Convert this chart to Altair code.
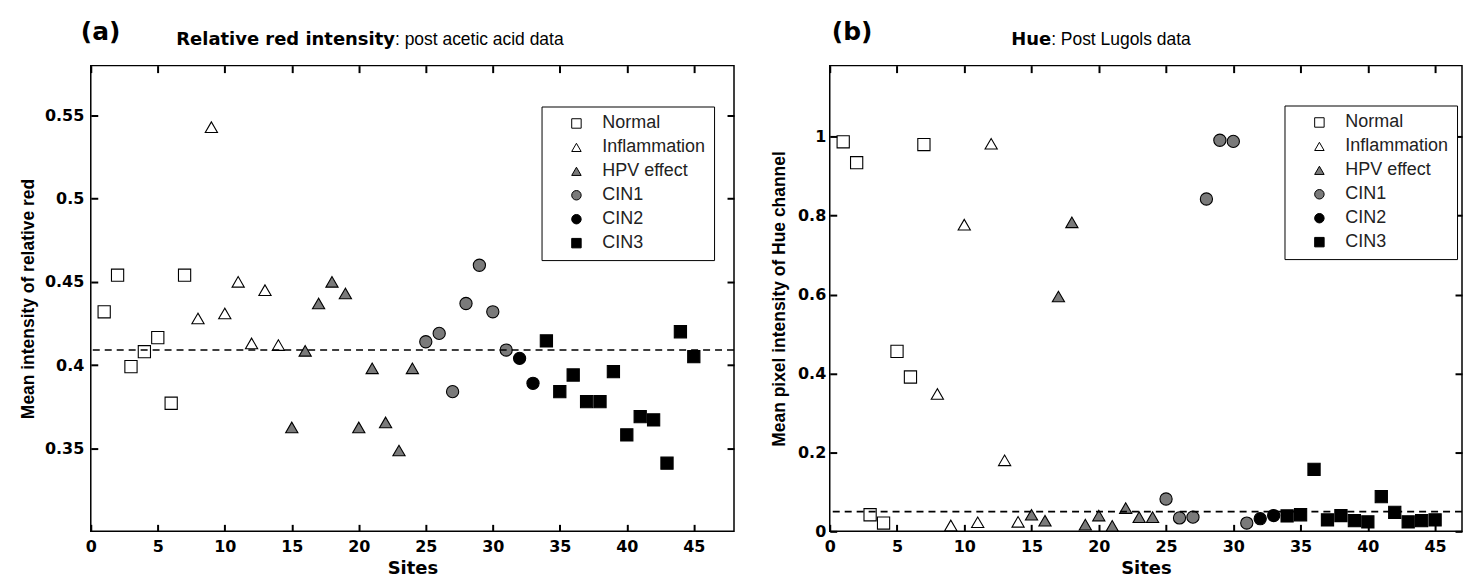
import altair as alt
import pandas as pd

# ---------------- data ----------------
sites = list(range(1, 46))
group_names = ["Normal", "Inflammation", "HPV effect", "CIN1", "CIN2", "CIN3"]
group_counts = [7, 7, 10, 7, 2, 12]
groups = [g for g, n in zip(group_names, group_counts) for _ in range(n)]

relative_red = [0.432, 0.454, 0.399, 0.408, 0.4165, 0.377, 0.454,
                0.428, 0.543, 0.431, 0.450, 0.413, 0.445, 0.412,
                0.3625, 0.4085, 0.437, 0.450, 0.443, 0.3625, 0.398, 0.3655, 0.3486, 0.398,
                0.414, 0.419, 0.384, 0.437, 0.460, 0.432, 0.409,
                0.404, 0.389,
                0.4145, 0.384, 0.394, 0.378, 0.378, 0.396, 0.358, 0.369, 0.367, 0.341, 0.420, 0.405]

hue = [0.987, 0.934, 0.042, 0.021, 0.456, 0.391, 0.980,
       0.348, 0.015, 0.777, 0.023, 0.982, 0.180, 0.024,
       0.042, 0.027, 0.595, 0.783, 0.017, 0.040, 0.014, 0.059, 0.036, 0.036,
       0.082, 0.034, 0.036, 0.842, 0.991, 0.988, 0.021,
       0.032, 0.040,
       0.039, 0.042, 0.157, 0.029, 0.040, 0.027, 0.024, 0.088, 0.048, 0.024, 0.027, 0.029]

thresholds = [0.409, 0.05]
x_ticks = [0, 5, 10, 15, 20, 25, 30, 35, 40, 45]
red_ticks = [0.35, 0.4, 0.45, 0.5, 0.55]
hue_ticks = [0, 0.2, 0.4, 0.6, 0.8, 1]

shape_range = ["square", "triangle-up", "triangle-up", "circle", "circle", "square"]
fill_range = ["white", "white", "#7a7a7a", "#7a7a7a", "black", "black"]
stroke_range = ["black"] * 6

BOLD_FONT = "DejaVu Sans"
REG_FONT = "Liberation Sans"
TICK = 7


def txt(s, x, y, size, weight, font, align):
    return alt.Chart(pd.DataFrame({"s": [s]})).mark_text(
        align=align, baseline="alphabetic", fontSize=size, fontWeight=weight,
        font=font, color="black"
    ).encode(text="s:N", x=alt.value(x), y=alt.value(y))


def panel(values, c):
    W, H = c["W"], c["H"]
    df = pd.DataFrame({"Site": sites, "Value": values, "Group": groups})
    xs = alt.Scale(domain=c["xdom"], nice=False, zero=False)
    ys = alt.Scale(domain=c["ydom"], nice=False, zero=False)
    tick_style = dict(ticks=True, tickSize=TICK, tickWidth=2, tickColor="black",
                      offset=-TICK, domain=False, grid=False, zindex=2)
    x_axis = alt.Axis(values=x_ticks, format="d", labelPadding=7, titlePadding=5,
                      titleFontSize=18, labelFlush=False, orient="bottom", **tick_style)
    y_axis = alt.Axis(values=c["yticks"], format=c["yfmt"], labelPadding=c["ylp"],
                      titlePadding=c["ytp"], titleFontSize=17.5, titleFont=REG_FONT,
                      labelFlush=False, orient="left", **tick_style)
    x_top = alt.Axis(values=x_ticks, labels=False, title=None, orient="top", **tick_style)
    y_right = alt.Axis(values=c["yticks"], labels=False, title=None, orient="right",
                       **tick_style)
    legend = alt.Legend(orient="none", legendX=c["lx"], legendY=c["ly"],
                        strokeColor="black", fillColor="white", padding=8,
                        labelFont=REG_FONT, labelFontSize=18, labelColor="#222",
                        symbolSize=90, symbolStrokeColor="black", symbolStrokeWidth=1,
                        symbolOffset=18, labelOffset=17, rowPadding=6, zindex=3)
    pts = alt.Chart(df).mark_point(filled=True, size=150, strokeWidth=1.1,
                                   opacity=1).encode(
        x=alt.X("Site:Q", scale=xs, axis=x_axis, title="Sites"),
        y=alt.Y("Value:Q", scale=ys, axis=y_axis, title=c["ytitle"]),
        shape=alt.Shape("Group:N", scale=alt.Scale(domain=group_names, range=shape_range),
                        legend=legend, title=None),
        fill=alt.Fill("Group:N", scale=alt.Scale(domain=group_names, range=fill_range),
                      legend=legend, title=None),
        stroke=alt.Stroke("Group:N", scale=alt.Scale(domain=group_names, range=stroke_range),
                          legend=legend, title=None),
    )
    ghost = alt.Chart(df).mark_point(opacity=0).encode(
        x=alt.X("Site:Q", scale=xs, axis=x_top),
        y=alt.Y("Value:Q", scale=ys, axis=y_right),
    )
    thr = alt.Chart(pd.DataFrame({"a": [0]})).mark_rule(
        color="black", strokeWidth=1.6, strokeDash=[7, 5]
    ).encode(y=alt.Y(datum=c["thresh"], axis=None))

    t_lab = txt(c["label"], c["labx"], c["laby"], 25, "bold", BOLD_FONT, "left")
    t_bold = txt(c["bold"], c["jx"], c["ty"], 18, "bold", BOLD_FONT, "right")
    t_reg = txt(c["regular"], c["jx"], c["ty"], 17.5, "normal", REG_FONT, "left")

    return alt.layer(pts, ghost, thr, t_lab, t_bold, t_reg).properties(width=W, height=H)


left = panel(relative_red, dict(
    W=645, H=467, xdom=[0, 48], ydom=[0.30, 0.58], yticks=red_ticks, yfmt=".2~f",
    ytitle="Mean intensity of relative red", ylp=7, ytp=7, thresh=thresholds[0],
    lx=452, ly=41, label="(a)", labx=-10, laby=-26, bold="Relative red intensity",
    regular=": post acetic acid data", jx=305, ty=-21))

right = panel(hue, dict(
    W=634, H=467, xdom=[0, 47], ydom=[0, 1.18], yticks=hue_ticks, yfmt="~g",
    ytitle="Mean pixel intensity of Hue channel", ylp=4, ytp=9, thresh=thresholds[1],
    lx=456, ly=40, label="(b)", labx=2, laby=-26, bold="Hue",
    regular=": Post Lugols data", jx=222, ty=-21))

chart = alt.hconcat(left, right, spacing=33).resolve_scale(
    shape="independent", fill="independent", stroke="independent"
).resolve_legend(
    shape="independent", fill="independent", stroke="independent"
).configure_view(
    stroke="black", strokeWidth=1.5
).configure_axis(
    labelFont=BOLD_FONT, labelFontWeight="bold", labelFontSize=16, labelColor="black",
    titleFont=BOLD_FONT, titleFontWeight="bold", titleColor="black"
).properties(
    padding={"left": 10, "top": 10, "right": 0, "bottom": 0},
    background="white"
)

chart.save("out.html", embed_options={"renderer": "svg", "actions": False})
